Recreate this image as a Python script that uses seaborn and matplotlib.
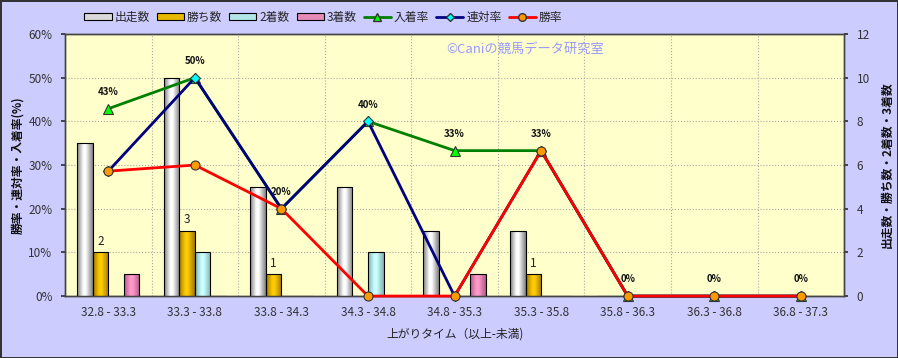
import numpy as np
import pandas as pd
import matplotlib
matplotlib.use("Agg")
import matplotlib.pyplot as plt
import seaborn as sns
from matplotlib.patches import Patch
from matplotlib.lines import Line2D
from matplotlib.colors import LinearSegmentedColormap

# ---------------- data ----------------
categories = ["32.8 - 33.3", "33.3 - 33.8", "33.8 - 34.3", "34.3 - 34.8", "34.8 - 35.3",
              "35.3 - 35.8", "35.8 - 36.3", "36.3 - 36.8", "36.8 - 37.3"]
starts = [7, 10, 5, 5, 3, 3, 0, 0, 0]          # 出走数
wins = [2, 3, 1, 0, 0, 1, 0, 0, 0]             # 勝ち数
seconds = [0, 2, 0, 2, 0, 0, 0, 0, 0]          # 2着数
thirds = [1, 0, 0, 0, 1, 0, 0, 0, 0]           # 3着数
place_rate = [42.9, 50.0, 20.0, 40.0, 33.3, 33.3, 0, 0, 0]     # 入着率
quinella_rate = [28.6, 50.0, 20.0, 40.0, 0, 33.3, 0, 0, 0]     # 連対率
win_rate = [28.6, 30.0, 20.0, 0, 0, 33.3, 0, 0, 0]             # 勝率
pct_ticks = [0, 10, 20, 30, 40, 50, 60]
pct_labels = ["0%", "10%", "20%", "30%", "40%", "50%", "60%"]
count_ticks = [0, 2, 4, 6, 8, 10, 12]

bar_names = ["出走数", "勝ち数", "2着数", "3着数"]
bar_values = [starts, wins, seconds, thirds]
line_names = ["入着率", "連対率", "勝率"]
line_values = [place_rate, quinella_rate, win_rate]

# ---------------- style ----------------
sns.set_theme(style="white")
plt.rcParams["font.family"] = ["Noto Sans CJK JP", "DejaVu Sans"]

bar_light = ["#ffffff", "#ffcc00", "#ccffff", "#ff99cc"]
bar_dark = ["#7f7f7f", "#a07800", "#7fb0b0", "#b05a85"]
bar_mid = ["#d9d9d9", "#e6b800", "#b3e6e6", "#e68ab8"]
line_colors = ["#008000", "#000080", "#ff0000"]
marker_faces = ["#00ff00", "#00ffff", "#ff9900"]
markers = ["^", "D", "o"]
marker_sizes = [7, 5, 6.5]

long = pd.DataFrame({
    "cat": np.tile(categories, len(bar_names)),
    "series": np.repeat(bar_names, len(categories)),
    "value": np.concatenate(bar_values),
})

fig = plt.figure(figsize=(8.98, 3.58), dpi=100, facecolor="#ccccff",
                 edgecolor="#333333", linewidth=2)
ax = fig.add_axes([0.0724, 0.173, 0.8676, 0.732])
ax.set_facecolor("#ffffcc")

# bars on counts axis
sns.barplot(data=long, x="cat", y="value", hue="series", hue_order=bar_names,
            order=categories, palette=bar_mid, width=0.72, gap=0,
            edgecolor="#000000", linewidth=0.8, legend=False, ax=ax, zorder=3)

# gradient fill for each bar (cylinder look)
for k, cont in enumerate(ax.containers):
    cmap = LinearSegmentedColormap.from_list(
        f"g{k}", [(0, bar_dark[k]), (0.4, bar_light[k]), (0.55, bar_light[k]), (1, bar_dark[k])])
    grad = np.linspace(0, 1, 64).reshape(1, -1)
    for p in cont.patches:
        if p.get_height() <= 0:
            continue
        x0, w, h = p.get_x(), p.get_width(), p.get_height()
        im = ax.imshow(grad, extent=[x0, x0 + w, 0, h], aspect="auto", cmap=cmap,
                       zorder=2.9, interpolation="bicubic")
        im.set_clip_path(p)
        p.set_facecolor("none")

ax.set_xlim(-0.5, len(categories) - 0.5)
ax.set_ylim(0, 12)
ax.set_yticks(count_ticks)

# win count labels
win_cont = ax.containers[1]
for p, v in zip(win_cont.patches, wins):
    if v > 0:
        ax.annotate(str(v), (p.get_x() + p.get_width() / 2, p.get_height()),
                    xytext=(0, 8), textcoords="offset points", ha="center", va="center",
                    fontsize=8.5, color="#222222", zorder=6)

# grid
ax.set_xticks(np.arange(len(categories) - 1) + 0.5, minor=True)
ax.grid(axis="y", which="major", ls=":", color="#a8a8a8", lw=0.8, zorder=0)
ax.grid(axis="x", which="minor", ls=":", color="#a8a8a8", lw=0.8, zorder=0)
ax.grid(axis="x", which="major", visible=False)
ax.set_axisbelow(True)

# lines on percent axis
ax2 = ax.twinx()
ax2.patch.set_visible(False)
for name, vals, c, mf, m, ms in zip(line_names, line_values, line_colors, marker_faces, markers, marker_sizes):
    sns.pointplot(x=categories, y=vals, order=categories, ax=ax2, color=c, markers=m,
                  linestyles="-", errorbar=None)
    ln = ax2.lines[-1]
    ln.set_linewidth(2)
    ln.set_markerfacecolor(mf)
    ln.set_markeredgecolor("#333333")
    ln.set_markeredgewidth(0.8)
    ln.set_markersize(ms)
    ln.set_clip_on(False)
    ln.set_zorder(4)
ax2.set_ylim(0, 60)
ax2.set_yticks(pct_ticks)
ax2.set_yticklabels(pct_labels)
ax2.set_xlim(-0.5, len(categories) - 0.5)

for i, v in enumerate(place_rate):
    ax2.annotate(f"{round(v)}%", (i, v), xytext=(0, 12), textcoords="offset points",
                 ha="center", va="center", fontsize=7, fontweight="bold", color="#111111")

# axis placement: percent on left, counts on right
ax.yaxis.tick_right()
ax.yaxis.set_label_position("right")
ax2.yaxis.tick_left()
ax2.yaxis.set_label_position("left")

ax.set_xticks(range(len(categories)))
ax.set_xticklabels(categories)
for a in (ax, ax2):
    a.tick_params(axis="both", which="major", labelsize=8.5, colors="#333333", length=3,
                  direction="out", pad=6)
    a.tick_params(axis="x", which="both", length=0)
    for s in a.spines.values():
        s.set_color("#444444")
        s.set_linewidth(1)
ax.tick_params(axis="x", pad=7, labelsize=8.5)

ax.set_xlabel("上がりタイム（以上-未満)", fontsize=8.5, color="#222222", labelpad=6)
ax2.set_ylabel("勝率・連対率・入着率(%)", fontsize=8.5, fontweight="bold", color="#111111", labelpad=3)
ax.set_ylabel("出走数・勝ち数・2着数・3着数", fontsize=8.5, fontweight="bold", color="#111111", labelpad=8)

# watermark
ax2.text(0.591, 0.94, "©Caniの競馬データ研究室", transform=ax2.transAxes, ha="center",
         va="center", fontsize=9.5, color="#9999ff", zorder=1)

# legend
handles = [Patch(facecolor=bar_mid[k], edgecolor="#000000", linewidth=0.8) for k in range(4)]
handles += [Line2D([], [], color=line_colors[k], lw=2, marker=markers[k], markerfacecolor=marker_faces[k],
                   markeredgecolor="#333333", markersize=marker_sizes[k] - 1) for k in range(3)]
fig.legend(handles, bar_names + line_names, loc="center", bbox_to_anchor=(0.36, 0.952), ncol=7,
           frameon=False, fontsize=8.5, handlelength=2.3, handleheight=0.6, handletextpad=0.25,
           columnspacing=0.6)

fig.savefig("out.png", dpi=100, facecolor=fig.get_facecolor(), edgecolor=fig.get_edgecolor())
